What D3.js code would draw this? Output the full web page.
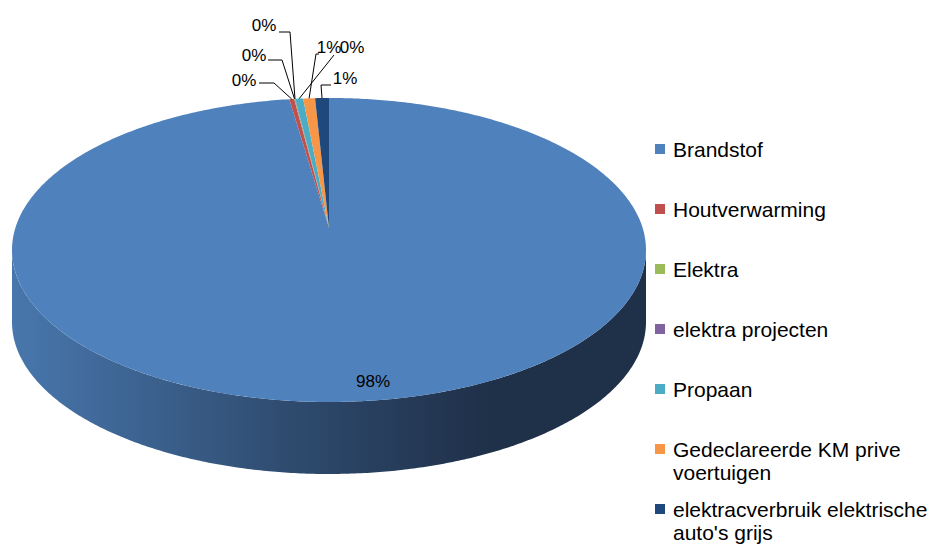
<!DOCTYPE html>
<html>
<head>
<meta charset="utf-8">
<script src="https://cdn.jsdelivr.net/npm/d3@7"></script>
<style>
  html, body { margin: 0; padding: 0; background: #fff; }
  text { font-family: "Liberation Sans", Arial, sans-serif; }
</style>
</head>
<body>
<div id="chart"></div>
<script>
const categories = ["Brandstof", "Houtverwarming", "Elektra", "elektra projecten", "Propaan",
  "Gedeclareerde KM prive voertuigen", "elektracverbruik elektrische auto's grijs"];
const shares = [98.0, 0.25, 0.03, 0.02, 0.4, 0.6, 0.7];
const colors = ["#4f81bd", "#c0504d", "#9bbb59", "#8064a2", "#4bacc6", "#f79646", "#1f497d"];

// label layout (placed by hand like the original)
const labelAt = [[373, 381], [244, 80], [254, 55], [264, 25], [352, 47], [329, 47], [345, 78]];
const leaderBend = [null, [[274, 83], [259, 83]], [[282, 60], [268, 60]], [[290, 32], [279, 32]],
  [[334, 55], [334, 55]], [[316, 54], [319, 54]], [[321, 85], [331, 85]]];

const width = 934, height = 546;
const cx = 329, cy = 250, rx = 317, ry = 152, depth = 72;
const apex = [329, 228];

const svg = d3.select("#chart").append("svg")
  .attr("width", width).attr("height", height);

const proj = a => [cx + rx * Math.sin(a), cy - ry * Math.cos(a)];

const pie = d3.pie().sort(null).value(d => d);
const arcs = pie(shares);

const grad = svg.append("defs").append("linearGradient")
  .attr("id", "side").attr("gradientUnits", "userSpaceOnUse")
  .attr("x1", cx - rx).attr("x2", cx + rx).attr("y1", 0).attr("y2", 0);
[[0, "#4877ad"], [0.45, "#2e4a6d"], [0.75, "#1f3049"], [1, "#1f3049"]]
  .forEach(([o, c]) => grad.append("stop").attr("offset", o).attr("stop-color", c));

const line = d3.line();

// front wall (only Brandstof shows there)
const front = d3.range(Math.PI / 2, 3 * Math.PI / 2 + 0.001, 0.01).map(proj);
const wall = front.concat(front.slice().reverse().map(([x, y]) => [x, y + depth]));
svg.append("path")
  .attr("d", line(wall) + "Z")
  .attr("fill", "url(#side)");

// top face
svg.selectAll("path.slice")
  .data(arcs)
  .join("path")
  .attr("class", "slice")
  .attr("d", d => {
    const n = Math.max(2, Math.ceil((d.endAngle - d.startAngle) / 0.01));
    const pts = d3.range(n + 1).map(i => proj(d.startAngle + (d.endAngle - d.startAngle) * i / n));
    return line([apex].concat(pts)) + "Z";
  })
  .attr("fill", (d, i) => colors[i]);

// leader lines
svg.selectAll("path.leader")
  .data(arcs.filter((d, i) => leaderBend[i]))
  .join("path")
  .attr("class", "leader")
  .attr("d", d => {
    const edge = proj((d.startAngle + d.endAngle) / 2);
    return line([edge].concat(leaderBend[d.index]));
  })
  .attr("fill", "none")
  .attr("stroke", "#000")
  .attr("stroke-width", 1);

const fmt = d3.format(".0%");
svg.selectAll("text.pct")
  .data(arcs)
  .join("text")
  .attr("class", "pct")
  .attr("x", (d, i) => labelAt[i][0])
  .attr("y", (d, i) => labelAt[i][1] + 6)
  .attr("text-anchor", "middle")
  .attr("font-size", 17)
  .attr("fill", "#000")
  .text(d => fmt(d.data / 100));

// legend
const legend = svg.append("g");
const legY = d3.scaleLinear().domain([0, 1]).range([149, 209]);
const maxW = 258;
categories.forEach((name, i) => {
  const g = legend.append("g").attr("transform", `translate(655,${legY(i)})`);
  g.append("rect").attr("x", 0).attr("y", -5).attr("width", 10).attr("height", 10)
    .attr("fill", colors[i]);
  const t = g.append("text").attr("x", 18).attr("y", 7.5)
    .attr("font-size", 21).attr("fill", "#000");
  // wrap words
  const words = name.split(" ");
  let cur = [], lineNo = 0;
  let ts = t.append("tspan").attr("x", 18).attr("dy", 0);
  words.forEach(w => {
    cur.push(w);
    ts.text(cur.join(" "));
    if (ts.node().getComputedTextLength() > maxW && cur.length > 1) {
      cur.pop();
      ts.text(cur.join(" "));
      cur = [w];
      lineNo++;
      ts = t.append("tspan").attr("x", 18).attr("dy", 23).text(w);
    }
  });
});
</script>
</body>
</html>
